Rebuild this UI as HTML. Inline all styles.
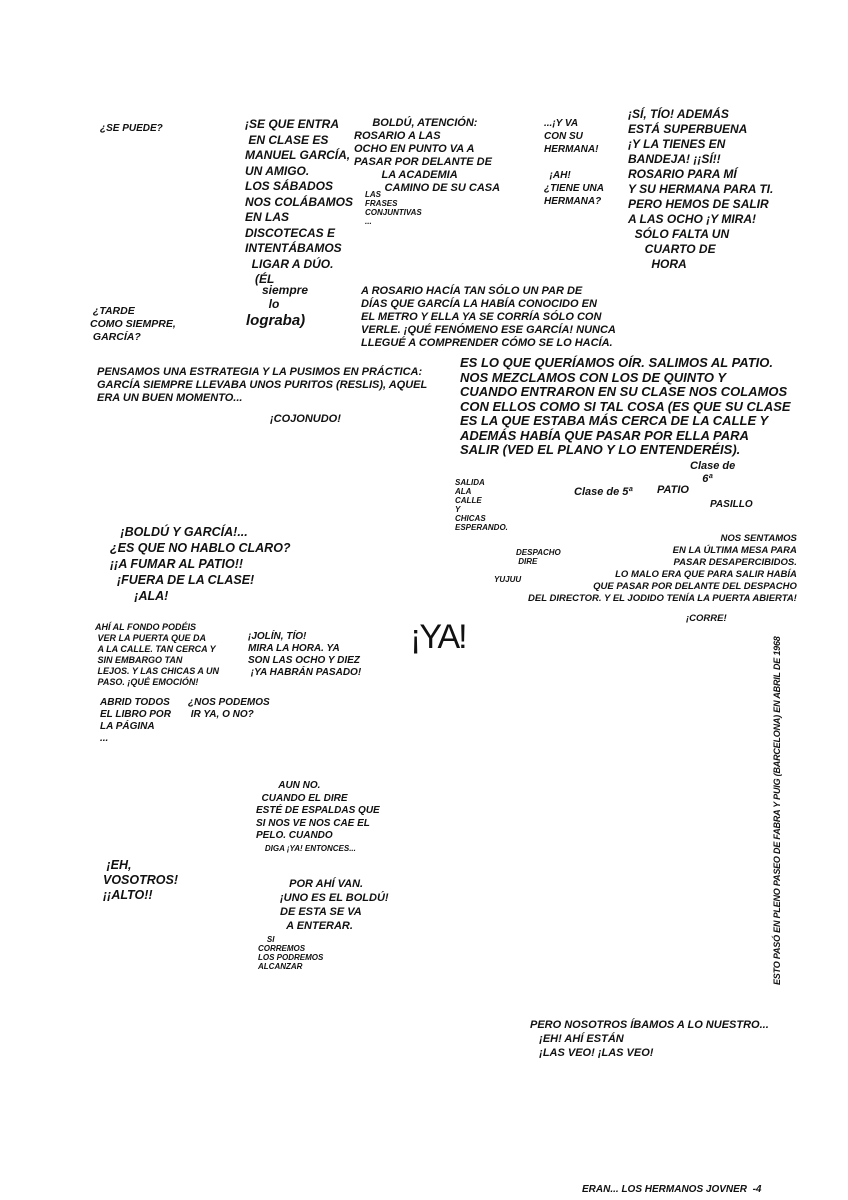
<!DOCTYPE html>
<html><head><meta charset="utf-8"><style>
body{margin:0;background:#fff;}
#p{position:relative;width:848px;height:1200px;background:#fff;overflow:hidden;font-family:"Liberation Sans",sans-serif;color:#111;font-style:italic;text-transform:uppercase;font-weight:600;}
.t{position:absolute;font-size:11px;line-height:13px;white-space:nowrap;}
.s{font-size:8px;line-height:9px;}
.b{font-size:13px;line-height:15px;}
</style></head><body><div id="p">
<div class="t" style="left:100px;top:122px;font-size:10px">¿Se puede?</div>
<div class="t b" style="left:245px;top:117px;font-size:12px;line-height:15.5px">¡Se que entra<br>&nbsp;en clase es<br>Manuel García,<br>un amigo.<br>Los sábados<br>nos colábamos<br>en las<br>discotecas e<br>intentábamos<br>&nbsp;&nbsp;ligar a dúo.<br>&nbsp;&nbsp;&nbsp;(él</div>
<div class="t" style="left:262px;top:283px;font-size:12px;line-height:14px;text-transform:none">siempre<br>&nbsp;&nbsp;lo</div>
<div class="t" style="left:246px;top:314px;font-size:15px;text-transform:none">lograba)</div>
<div class="t" style="left:354px;top:117px;line-height:13px">&nbsp;&nbsp;&nbsp;&nbsp;&nbsp;&nbsp;Boldú, atención:<br>Rosario a las<br>ocho en punto va a<br>pasar por delante de<br>&nbsp;&nbsp;&nbsp;&nbsp;&nbsp;&nbsp;&nbsp;&nbsp;&nbsp;la academia<br>&nbsp;&nbsp;&nbsp;&nbsp;&nbsp;&nbsp;&nbsp;&nbsp;&nbsp;&nbsp;camino de su casa</div>
<div class="t s" style="left:365px;top:190px">Las<br>frases<br>conjuntivas<br>...</div>
<div class="t" style="left:544px;top:117px;font-size:10px">...¡Y va<br>con su<br>hermana!<br><br>&nbsp;&nbsp;¡Ah!<br>¿Tiene una<br>hermana?</div>
<div class="t" style="left:628px;top:107px;font-size:12px;line-height:15px">¡Sí, tío! Además<br>está superbuena<br>¡y la tienes en<br>bandeja! ¡¡Sí!!<br>Rosario para mí<br>y su hermana para ti.<br>Pero hemos de salir<br>a las ocho ¡y mira!<br>&nbsp;&nbsp;sólo falta un<br>&nbsp;&nbsp;&nbsp;&nbsp;&nbsp;cuarto de<br>&nbsp;&nbsp;&nbsp;&nbsp;&nbsp;&nbsp;&nbsp;hora</div>
<div class="t" style="left:361px;top:285px;line-height:13px">A Rosario hacía tan sólo un par de<br>días que García la había conocido en<br>el metro y ella ya se corría sólo con<br>verle. ¡Qué fenómeno ese García! Nunca<br>llegué a comprender cómo se lo hacía.</div>
<div class="t" style="left:90px;top:305px;font-size:10.5px">&nbsp;¿Tarde<br>como siempre,<br>&nbsp;García?</div>
<div class="t" style="left:97px;top:366px;line-height:13px">Pensamos una estrategia y la pusimos en práctica:<br>García siempre llevaba unos puritos (Reslis), aquel<br>era un buen momento...</div>
<div class="t" style="left:270px;top:413px">¡Cojonudo!</div>
<div class="t b" style="left:460px;top:356px;line-height:14.5px">Es lo que queríamos oír. Salimos al patio.<br>Nos mezclamos con los de quinto y<br>cuando entraron en su clase nos colamos<br>con ellos como si tal cosa (es que su clase<br>es la que estaba más cerca de la calle y<br>además había que pasar por ella para<br>salir (ved el plano y lo entenderéis).</div>
<div class="t" style="left:690px;top:460px;text-transform:none">Clase de<br>&nbsp;&nbsp;&nbsp;&nbsp;6ª</div>
<div class="t s" style="left:455px;top:478px">Salida<br>ala<br>calle<br>y<br>chicas<br>esperando.</div>
<div class="t" style="left:574px;top:486px;text-transform:none">Clase de 5ª</div>
<div class="t" style="left:657px;top:484px">Patio</div>
<div class="t" style="left:710px;top:498px;font-size:10px">Pasillo</div>
<div class="t s" style="left:516px;top:548px">Despacho<br>&nbsp;dire</div>
<div class="t s" style="left:494px;top:575px">yujuu</div>
<div class="t" style="left:528px;top:533px;font-size:9.5px;line-height:12px;text-align:right">&nbsp;&nbsp;&nbsp;&nbsp;&nbsp;&nbsp;&nbsp;&nbsp;&nbsp;&nbsp;&nbsp;&nbsp;&nbsp;&nbsp;&nbsp;&nbsp;&nbsp;&nbsp;&nbsp;&nbsp;&nbsp;&nbsp;&nbsp;&nbsp;&nbsp;&nbsp;&nbsp;&nbsp;&nbsp;&nbsp;&nbsp;&nbsp;&nbsp;&nbsp;&nbsp;Nos sentamos<br>en la última mesa para<br>pasar desapercibidos.<br>Lo malo era que para salir había<br>que pasar por delante del despacho<br>del director. Y el jodido tenía la puerta abierta!</div>
<div class="t" style="left:686px;top:612px;font-size:9.5px">¡Corre!</div>
<div class="t b" style="left:110px;top:524px;font-size:12.5px;line-height:16px">&nbsp;&nbsp;&nbsp;¡Boldú y García!...<br>¿Es que no hablo claro?<br>¡¡A fumar al patio!!<br>&nbsp;&nbsp;¡Fuera de la clase!<br>&nbsp;&nbsp;&nbsp;&nbsp;&nbsp;&nbsp;&nbsp;¡Ala!</div>
<div class="t" style="left:95px;top:622px;font-size:9px;line-height:11px">Ahí al fondo podéis<br>&nbsp;ver la puerta que da<br>&nbsp;a la calle. Tan cerca y<br>&nbsp;sin embargo tan<br>&nbsp;lejos. Y las chicas a un<br>&nbsp;paso. ¡Qué emoción!</div>
<div class="t" style="left:248px;top:631px;font-size:10px;line-height:12px">¡Jolín, tío!<br>Mira la hora. Ya<br>son las ocho y diez<br>&nbsp;¡Ya habrán pasado!</div>
<div class="t" style="left:410px;top:617px;font-size:34px;line-height:40px;font-style:normal;font-weight:400;letter-spacing:-2px">¡YA!</div>
<div class="t" style="left:100px;top:697px;font-size:10px;line-height:12px">Abrid todos<br>el libro por<br>la página<br>...</div>
<div class="t" style="left:188px;top:697px;font-size:10px;line-height:12px">¿Nos podemos<br>&nbsp;ir ya, o no?</div>
<div class="t" style="left:256px;top:780px;font-size:10px;line-height:12.5px">&nbsp;&nbsp;&nbsp;&nbsp;&nbsp;&nbsp;&nbsp;&nbsp;Aun no.<br>&nbsp;&nbsp;Cuando el dire<br>esté de espaldas que<br>si nos ve nos cae el<br>pelo. Cuando<br><span style="font-size:8px">&nbsp;&nbsp;&nbsp;&nbsp;diga ¡Ya! entonces...</span></div>
<div class="t b" style="left:103px;top:858px;font-size:12.5px">&nbsp;¡Eh,<br>vosotros!<br>¡¡Alto!!</div>
<div class="t" style="left:280px;top:877px;font-size:11px;line-height:14px">&nbsp;&nbsp;&nbsp;Por ahí van.<br>¡Uno es el Boldú!<br>De esta se va<br>&nbsp;&nbsp;a enterar.</div>
<div class="t s" style="left:258px;top:935px">&nbsp;&nbsp;&nbsp;&nbsp;Si<br>corremos<br>los podremos<br>alcanzar</div>
<div class="t" style="left:530px;top:1018px;font-size:11px;line-height:14px">Pero nosotros íbamos a lo nuestro...<br>&nbsp;&nbsp;&nbsp;¡Eh! Ahí están<br>&nbsp;&nbsp;&nbsp;¡Las veo! ¡Las veo!</div>
<div class="t" style="left:771px;top:985px;transform-origin:0 0;transform:rotate(-90deg);font-size:9px;letter-spacing:-0.2px">Esto pasó en pleno paseo de Fabra y Puig (Barcelona) en abril de 1968</div>
<div class="t" style="left:582px;top:1183px;font-size:10px">Eran... los hermanos Jovner &nbsp;-4</div>
</div></body></html>
